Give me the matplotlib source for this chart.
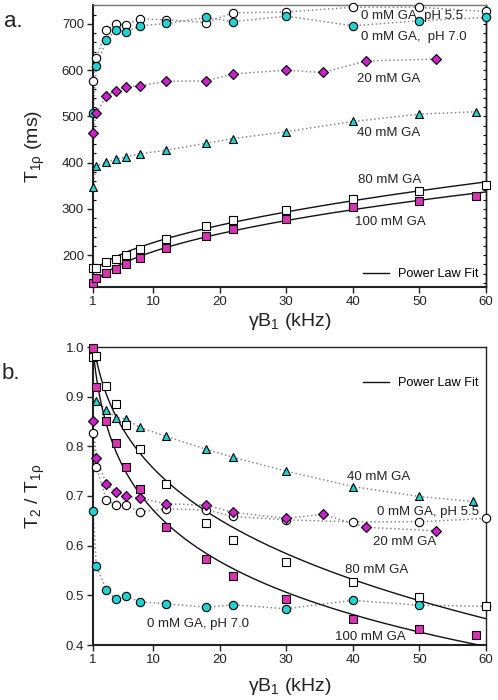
import numpy as np
import matplotlib
matplotlib.use("Agg")
import matplotlib.pyplot as plt
from matplotlib.ticker import MultipleLocator, FixedLocator, FormatStrFormatter
from matplotlib.lines import Line2D

plt.rcParams["font.family"] = ["Liberation Sans", "DejaVu Sans"]
plt.rcParams["mathtext.fontset"] = "custom"
plt.rcParams["mathtext.rm"] = "Liberation Sans"
plt.rcParams["mathtext.default"] = "regular"

# ─────────────────────────────────────────────────────────────────────────────
# DATA
# ─────────────────────────────────────────────────────────────────────────────
X_BASE = [1, 1.5, 3, 4.5, 6, 8, 12, 18, 22, 30, 40, 50, 60]
X_20   = [1, 1.5, 3, 4.5, 6, 8, 12, 18, 22, 30, 35.5, 42, 52.5]
X_40   = [1, 1.5, 3, 4.5, 6, 8, 12, 18, 22, 30, 40, 50, 58.5]
X_100  = [1, 1.5, 3, 4.5, 6, 8, 12, 18, 22, 30, 40, 50, 58.5]

# panel a : T1rho (ms)
T1_0_PH55 = [577, 626, 687, 700, 698, 711, 709, 703, 724, 726, 736, 736, 727]
T1_0_PH70 = [508, 608, 665, 688, 682, 696, 701, 714, 705, 717, 696, 707, 714]
T1_20     = [464, 507, 544, 556, 564, 566, 576, 577, 592, 600, 595, 620, 624]
T1_40     = [347, 393, 401, 408, 413, 419, 427, 442, 452, 467, 489, 505, 510]
T1_80     = [172, 172, 184, 191, 201, 213, 234, 263, 276, 297, 321, 339, 352]
T1_100    = [139, 150, 162, 171, 181, 193, 216, 241, 256, 279, 304, 317, 328]

# panel b : T2 / T1rho
X_40B     = [1.5, 3, 4.5, 6, 8, 12, 18, 22, 30, 40, 50, 58]
R_0_PH55  = [0.826, 0.759, 0.692, 0.681, 0.681, 0.668, 0.674, 0.672, 0.659, 0.652, 0.648, 0.648, 0.655]
R_0_PH70  = [0.670, 0.559, 0.511, 0.492, 0.498, 0.487, 0.483, 0.476, 0.481, 0.473, 0.490, 0.480, 0.478]
R_20      = [0.850, 0.777, 0.724, 0.708, 0.699, 0.696, 0.684, 0.682, 0.667, 0.655, 0.663, 0.637, 0.630]
R_40      = [0.892, 0.873, 0.858, 0.855, 0.838, 0.820, 0.794, 0.778, 0.750, 0.719, 0.699, 0.689]
R_80      = [0.980, 0.982, 0.922, 0.885, 0.842, 0.795, 0.724, 0.646, 0.612, 0.567, 0.526, 0.496, 0.479]
R_100     = [0.997, 0.919, 0.852, 0.807, 0.759, 0.715, 0.638, 0.573, 0.539, 0.492, 0.453, 0.433, 0.420]

CYAN    = "#22D2D2"
MAGENTA = "#CC22CC"
PINK    = "#D933B4"
DOT     = "#8a8a8a"
TXT     = "#222"


def power_fit(x, y):
    """least squares fit of y = c + a * x**b (grid over b)"""
    x = np.asarray(x, float)
    y = np.asarray(y, float)
    best = None
    for b in np.linspace(-3, 3, 1201):
        if abs(b) < 1e-6:
            continue
        A = np.column_stack([np.ones_like(x), x ** b])
        coef = np.linalg.lstsq(A, y, rcond=None)[0]
        sse = np.sum((A @ coef - y) ** 2)
        if best is None or sse < best[0]:
            best = (sse, b, coef)
    _, b, (c, a) = best
    xx = np.linspace(1, 60, 400)
    return xx, c + a * xx ** b


def series(ax, x, y, marker, fc, ms=6, dotted=True):
    if dotted:
        ax.plot(x, y, ls=":", color=DOT, lw=1.1, zorder=2)
    ax.plot(x, y, ls="none", marker=marker, ms=ms, mfc=fc, mec="black",
            mew=0.8, zorder=4, clip_on=False)


def style(ax):
    ax.set_xlim(1, 60)
    ax.xaxis.set_major_locator(FixedLocator([1, 10, 20, 30, 40, 50, 60]))
    ax.tick_params(axis="both", which="major", direction="out", length=4,
                   width=1, labelsize=9.5, pad=2.5, colors=TXT)
    ax.tick_params(axis="x", top=False)
    for s in ["left", "bottom"]:
        ax.spines[s].set_linewidth(1.5)
        ax.spines[s].set_color(TXT)
    for s in ["top", "right"]:
        ax.spines[s].set_linewidth(1.0)
        ax.spines[s].set_color(TXT)


fig = plt.figure(figsize=(4.98, 7.0), dpi=100)
ax1 = fig.add_axes([93 / 498, 1 - 287 / 700, 393 / 498, 282 / 700])
ax2 = fig.add_axes([93 / 498, 1 - 645 / 700, 393 / 498, 298 / 700])

fit_handle = [Line2D([], [], color="#111", lw=1.0)]
lab = dict(fontsize=9.5, color=TXT, va="center", ha="left")

# ─────────────────────────────────────────────────────────────────────────────
# PANEL a
# ─────────────────────────────────────────────────────────────────────────────
style(ax1)
ax1.set_ylim(131, 741)
ax1.yaxis.set_major_locator(MultipleLocator(100))
ax1.yaxis.set_minor_locator(MultipleLocator(20))
ax1.tick_params(axis="y", which="minor", direction="in", length=2.5, width=0.8)
ax1.spines["top"].set_color("#777")
sec = ax1.secondary_yaxis("right")
sec.yaxis.set_major_locator(MultipleLocator(20))
sec.tick_params(direction="in", length=2.5, width=0.8, labelright=False)
sec.spines["right"].set_linewidth(1.0)

for x, y in [(X_BASE, T1_80), (X_100, T1_100)]:
    xx, yy = power_fit(x, y)
    ax1.plot(xx, yy, color="#111", lw=1.0, zorder=3)

series(ax1, X_BASE, T1_0_PH55, "o", "white")
series(ax1, X_BASE, T1_0_PH70, "o", CYAN)
series(ax1, X_20, T1_20, "D", MAGENTA, ms=5.5)
series(ax1, X_40, T1_40, "^", CYAN, ms=5.5)
series(ax1, X_BASE, T1_80, "s", "white", dotted=False)
series(ax1, X_100, T1_100, "s", PINK, dotted=False)

ax1.text(41.3, 718, "0 mM GA, pH 5.5", **lab)
ax1.text(41.3, 672, "0 mM GA,  pH 7.0", **lab)
ax1.text(40.7, 581, "20 mM GA", **lab)
ax1.text(40.7, 464, "40 mM GA", **lab)
ax1.text(40.8, 362, "80 mM GA", **lab)
ax1.text(40.3, 272, "100 mM GA", **lab)

ax1.set_ylabel("T$_{1ρ}$ (ms)", fontsize=14, color=TXT)
ax1.yaxis.set_label_coords(-0.117, 0.5)
ax1.set_xlabel("γB$_1$ (kHz)", fontsize=14, color=TXT)
ax1.xaxis.set_label_coords(0.5, -0.085)

ax1.legend(fit_handle, ["Power Law Fit"], loc="center right",
           bbox_to_anchor=(0.98, 0.046), frameon=False, fontsize=9.2,
           handlelength=2.0, handletextpad=0.7, borderpad=0, borderaxespad=0)

# ─────────────────────────────────────────────────────────────────────────────
# PANEL b
# ─────────────────────────────────────────────────────────────────────────────
style(ax2)
ax2.set_ylim(0.4, 1.0)
ax2.yaxis.set_major_locator(MultipleLocator(0.1))
ax2.yaxis.set_major_formatter(FormatStrFormatter("%.1f"))

for x, y in [(X_BASE, R_80), (X_100, R_100)]:
    xx, yy = power_fit(x, y)
    ax2.plot(xx, yy, color="#111", lw=1.0, zorder=3)

series(ax2, X_BASE, R_0_PH55, "o", "white")
series(ax2, X_BASE, R_0_PH70, "o", CYAN)
series(ax2, X_20, R_20, "D", MAGENTA, ms=5.5)
series(ax2, X_40B, R_40, "^", CYAN, ms=5.5)
series(ax2, X_BASE, R_80, "s", "white", dotted=False)
series(ax2, X_100, R_100, "s", PINK, dotted=False)

ax2.text(39.2, 0.739, "40 mM GA", **lab)
ax2.text(43.7, 0.667, "0 mM GA, pH 5.5", **lab)
ax2.text(43.1, 0.608, "20 mM GA", **lab)
ax2.text(38.9, 0.551, "80 mM GA", **lab)
ax2.text(37.4, 0.417, "100 mM GA", **lab)
ax2.text(9.1, 0.442, "0 mM GA, pH 7.0", **lab)

ax2.set_ylabel("T$_2$ / T$_{1ρ}$", fontsize=14, color=TXT)
ax2.yaxis.set_label_coords(-0.117, 0.5)
ax2.set_xlabel("γB$_1$ (kHz)", fontsize=14, color=TXT)
ax2.xaxis.set_label_coords(0.5, -0.105)

ax2.legend(fit_handle, ["Power Law Fit"], loc="center right",
           bbox_to_anchor=(0.98, 0.879), frameon=False, fontsize=9.2,
           handlelength=2.0, handletextpad=0.7, borderpad=0, borderaxespad=0)

fig.text(0.008, 1 - 27 / 700, "a.", fontsize=16, color=TXT, va="baseline")
fig.text(0.004, 1 - 379 / 700, "b.", fontsize=16, color=TXT, va="baseline")

fig.savefig("out.png", dpi=100)
